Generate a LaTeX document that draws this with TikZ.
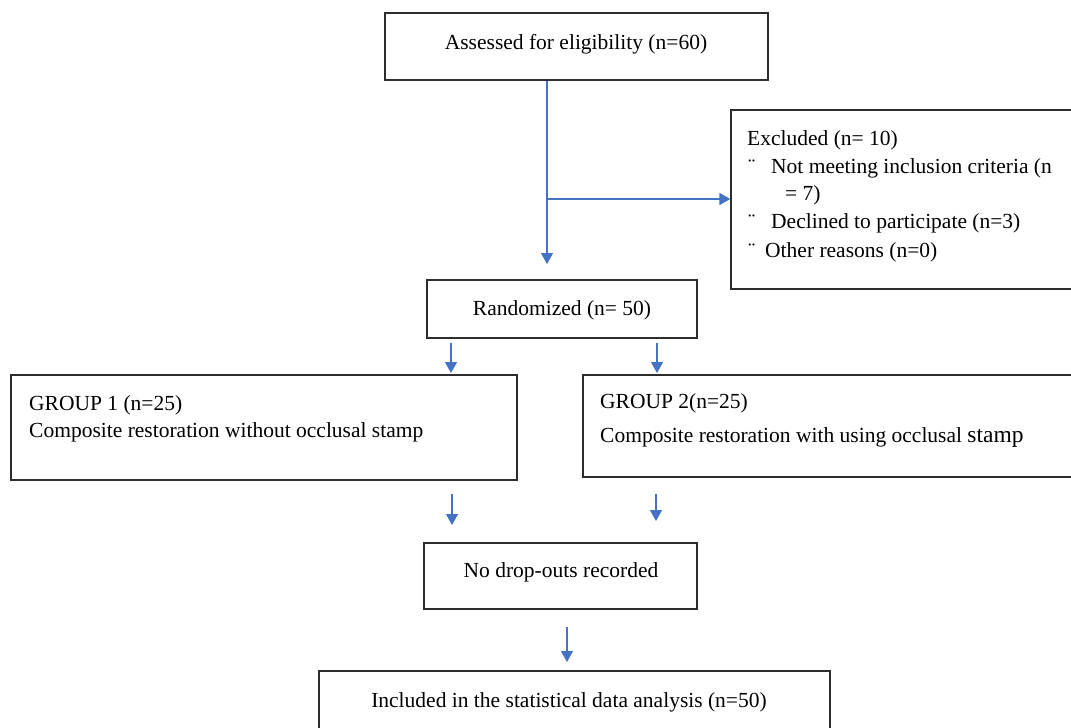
\documentclass[tikz,border=0pt]{standalone}
\usepackage{fontspec}
\setmainfont{Liberation Serif}
\usetikzlibrary{arrows.meta}
\definecolor{arrowblue}{RGB}{68,114,196}
\definecolor{boxgray}{RGB}{45,45,45}
\begin{document}
\begin{tikzpicture}[x=1pt,y=-1pt,
  box/.style={draw=boxgray,line width=1.3pt,minimum width=#1,inner sep=0pt},
  txt/.style={inner sep=0pt,font=\fontsize{21.5}{28}\selectfont},
  flow/.style={draw=arrowblue,line width=1.3pt,-{Triangle[length=11pt,width=12pt]}},
  flowline/.style={draw=arrowblue,line width=1.3pt}]
\useasboundingbox (0,0) rectangle (1071,728);
\clip (0,0) rectangle (1071,728);
% boxes
\node[box=383pt,minimum height=67pt] (assess) at (576.5,46.5) {};
\node[box=344pt,minimum height=179pt] (excl) at (903,199.5) {};
\node[box=270pt,minimum height=58pt] (rand) at (562,309) {};
\node[box=506pt,minimum height=105pt] (g1) at (264,427.5) {};
\node[box=492pt,minimum height=102pt] (g2) at (829,426) {};
\node[box=273pt,minimum height=66pt] (drop) at (560.5,576) {};
\node[box=511pt,minimum height=69pt] (incl) at (574.5,705.5) {};
% texts
\node[txt,anchor=base] (tA) at (576,49) {Assessed for eligibility (n=60)};
\node[txt,anchor=base west] (tE1) at (747,145) {Excluded (n= 10)};
\node[txt,anchor=base west] (tE2b) at (748,173) {\char"00A8};
\node[txt,anchor=base west] (tE2) at (771,173) {Not meeting inclusion criteria (n};
\node[txt,anchor=base west] (tE3) at (785,200) {= 7)};
\node[txt,anchor=base west] (tE4b) at (748,228) {\char"00A8};
\node[txt,anchor=base west] (tE4) at (771,228) {Declined to participate (n=3)};
\node[txt,anchor=base west] (tE5b) at (748,257) {\char"00A8};
\node[txt,anchor=base west] (tE5) at (765,257) {Other reasons (n=0)};
\node[txt,anchor=base] (tR) at (562,315) {Randomized (n= 50)};
\node[txt,anchor=base west] (tG1a) at (29,410) {GROUP 1 (n=25)};
\node[txt,anchor=base west] (tG1b) at (29,437) {Composite restoration without occlusal stamp};
\node[txt,anchor=base west] (tG2a) at (600,408) {GROUP 2(n=25)};
\node[txt,anchor=base west] (tG2b) at (600,442) {Composite restoration with using occlusal {\fontsize{23.5}{28}\selectfont stamp}};
\node[txt,anchor=base] (tD) at (561,577) {No drop-outs recorded};
\node[txt,anchor=base] (tI) at (569,707) {Included in the statistical data analysis (n=50)};
% connector coordinates
\coordinate (split) at (547,199);
\coordinate (mainend) at (547,264);
\coordinate (r1s) at (451,343);
\coordinate (r1e) at (451,373);
\coordinate (r2s) at (657,343);
\coordinate (r2e) at (657,373);
\coordinate (d1s) at (452,494);
\coordinate (d1e) at (452,525);
\coordinate (d2s) at (656,494);
\coordinate (d2e) at (656,521);
\coordinate (is) at (567,627);
\coordinate (ie) at (567,662);
% connectors
\draw[flow] (assess.south -| split) -- (mainend);
\draw[flow] (split) -- (excl.west |- split);
\draw[flow] (r1s) -- (r1e);
\draw[flow] (r2s) -- (r2e);
\draw[flow] (d1s) -- (d1e);
\draw[flow] (d2s) -- (d2e);
\draw[flow] (is) -- (ie);
\end{tikzpicture}
\end{document}
